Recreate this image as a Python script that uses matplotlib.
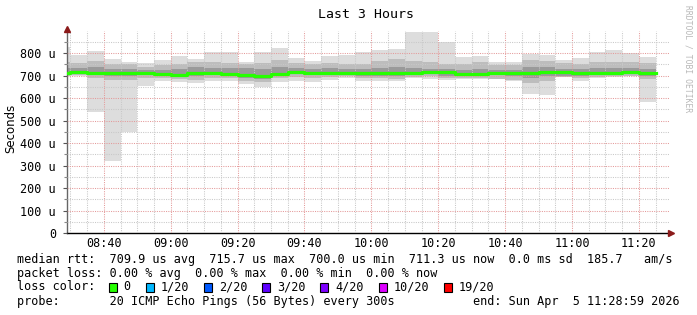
import numpy as np
import matplotlib
matplotlib.use("Agg")
import matplotlib.pyplot as plt
from matplotlib.patches import Rectangle

# minutes after 08:00, left edge of each 5 minute bin
bin_start = np.arange(25, 205, 5)

# median rtt per bin, microseconds
median = [712.0, 714.3, 712.0, 710.5, 710.5, 710.5, 706.0, 703.8, 713.5, 712.8,
          707.5, 700.8, 700.0, 709.0, 715.7, 710.5, 710.5, 712.0, 710.5, 710.5,
          712.8, 712.8, 715.7, 715.7, 706.0, 706.0, 710.5, 710.5, 710.5, 714.3,
          714.3, 710.5, 712.0, 712.0, 715.7, 711.3]
ping_max = [828, 791, 809, 772, 761, 754, 769, 787, 775, 803, 803, 761, 803, 821, 778, 764, 788, 791,
            803, 813, 818, 892, 892, 850, 784, 788, 760, 760, 794, 790, 769, 779, 803, 813, 799, 784]
ping_min = [698, 698, 539, 321, 447, 653, 677, 670, 668, 675, 675, 661, 650, 672, 675, 672, 680, 687,
            677, 675, 675, 687, 684, 680, 684, 684, 684, 677, 618, 612, 692, 677, 690, 695, 698, 584]
hi2 = [760, 755, 765, 750, 752, 740, 745, 750, 760, 760, 755, 750, 755, 770, 755, 750, 755, 750,
       750, 765, 775, 765, 760, 750, 750, 760, 745, 745, 770, 765, 755, 750, 760, 760, 760, 755]
hi3 = [735, 735, 740, 730, 730, 725, 725, 728, 740, 735, 735, 735, 730, 740, 735, 730, 732, 730,
       730, 735, 740, 735, 730, 730, 725, 730, 725, 725, 740, 740, 730, 730, 735, 735, 735, 730]
lo3 = [705, 708, 705, 700, 700, 703, 700, 698, 700, 703, 700, 690, 685, 700, 705, 703, 703, 705,
       700, 700, 700, 703, 705, 700, 697, 700, 703, 700, 690, 700, 700, 700, 705, 705, 708, 700]
lo2 = [700, 702, 688, 678, 680, 690, 690, 685, 680, 690, 688, 675, 670, 690, 692, 690, 695, 697,
       688, 690, 685, 695, 697, 690, 690, 690, 685, 680, 665, 675, 695, 690, 695, 697, 700, 685]

x_ticks = [40, 60, 80, 100, 120, 140, 160, 180, 200]
x_labels = ["08:40", "09:00", "09:20", "09:40", "10:00", "10:20", "10:40", "11:00", "11:20"]
y_ticks = [0, 100, 200, 300, 400, 500, 600, 700, 800]
y_labels = ["0", "100 u", "200 u", "300 u", "400 u", "500 u", "600 u", "700 u", "800 u"]

loss_labels = ["0", "1/20", "2/20", "3/20", "4/20", "10/20", "19/20"]
loss_colors = ["#26ff00", "#00b8ff", "#0059ff", "#5e00ff", "#7e00ff", "#dd00ff", "#ff0000"]

W, H = 697, 315
mono = "DejaVu Sans Mono"
fs = 8.5

fig = plt.figure(figsize=(W / 100, H / 100), dpi=100)
fig.patch.set_facecolor("white")
ax = fig.add_axes([67 / W, (H - 233) / H, 602 / W, 202 / H])

# smoke
mx, mn = np.array(ping_max), np.array(ping_min)
ax.bar(bin_start, mx - mn, bottom=mn, width=5, align="edge", color="#dddddd", lw=0, zorder=1)
ax.bar(bin_start, np.array(hi2) - np.array(lo2), bottom=lo2, width=5, align="edge",
       color="#bdbdbd", lw=0, zorder=1)
ax.bar(bin_start, np.array(hi3) - np.array(lo3), bottom=lo3, width=5, align="edge",
       color="#9a9a9a", lw=0, zorder=1)

# median line
xs = np.append(bin_start, bin_start[-1] + 5)
ys = np.append(median, median[-1])
ax.step(xs, ys, where="post", color=loss_colors[0], lw=2.3, zorder=3)

ax.set_xlim(29, 209)
ax.set_ylim(0, 898)
ax.set_xticks(x_ticks)
ax.set_xticklabels(x_labels, fontfamily=mono, fontsize=fs)
ax.set_xticks(np.arange(30, 210, 5), minor=True)
ax.set_yticks(y_ticks)
ax.set_yticklabels(y_labels, fontfamily=mono, fontsize=fs)
ax.set_yticks(np.arange(50, 900, 100), minor=True)

ax.set_axisbelow(False)
ax.grid(which="minor", color="#c8c8c8", linestyle=(0, (1, 1.2)), lw=0.75)
ax.grid(which="major", color="#e49a9a", linestyle=(0, (1, 1.2)), lw=0.75)
ax.tick_params(axis="x", which="both", length=0, pad=3)
ax.tick_params(axis="y", which="major", length=3, width=0.8, color="#555555", pad=5)
ax.tick_params(axis="y", which="minor", length=2, width=0.8, color="#888888")

for s in ["top", "right"]:
    ax.spines[s].set_visible(False)
ax.spines["left"].set_color("#666666")
ax.spines["bottom"].set_color("black")
ax.spines["left"].set_linewidth(1)
ax.spines["bottom"].set_linewidth(1)

# axis arrows
ax.plot([0], [1.01], marker="^", ms=4.5, color="#8b1a1a", transform=ax.transAxes, clip_on=False, zorder=5)
ax.plot([1.003], [0], marker=">", ms=4.5, color="#8b1a1a", transform=ax.transAxes, clip_on=False, zorder=5)

fig.text(366 / W, 1 - 14 / H, "Last 3 Hours", fontfamily=mono, fontsize=9.5, ha="center", va="center")
fig.text(11 / W, 1 - 128 / H, "Seconds", fontfamily="DejaVu Sans", fontsize=8.5, rotation=90,
         ha="center", va="center")
fig.text(688 / W, 1 - 5 / H, "RRDTOOL / TOBI OETIKER", fontfamily=mono, fontsize=5.8, rotation=270,
         ha="center", va="top", color="#b8b8b8")

# legend block
def ftext(x, y, s, **kw):
    fig.text(x / W, 1 - y / H, s, fontfamily=mono, fontsize=fs, va="center", **kw)

ftext(17, 259, "median rtt:  709.9 us avg  715.7 us max  700.0 us min  711.3 us now  0.0 ms sd  185.7   am/s")
ftext(17, 273, "packet loss: 0.00 % avg  0.00 % max  0.00 % min  0.00 % now")
ftext(17, 287, "loss color:")
ftext(17, 301, "probe:       20 ICMP Echo Pings (56 Bytes) every 300s")
ftext(680, 301, "end: Sun Apr  5 11:28:59 2026", ha="right")

cw = 7.07
x = 108.5
for lab, col in zip(loss_labels, loss_colors):
    fig.add_artist(Rectangle((x / W, 1 - 292 / H), 8 / W, 9 / H, transform=fig.transFigure,
                             facecolor=col, edgecolor="black", lw=0.8))
    ftext(x + 15, 287, lab)
    x += 30 + len(lab) * cw

fig.savefig("out.png", dpi=100, facecolor="white")
